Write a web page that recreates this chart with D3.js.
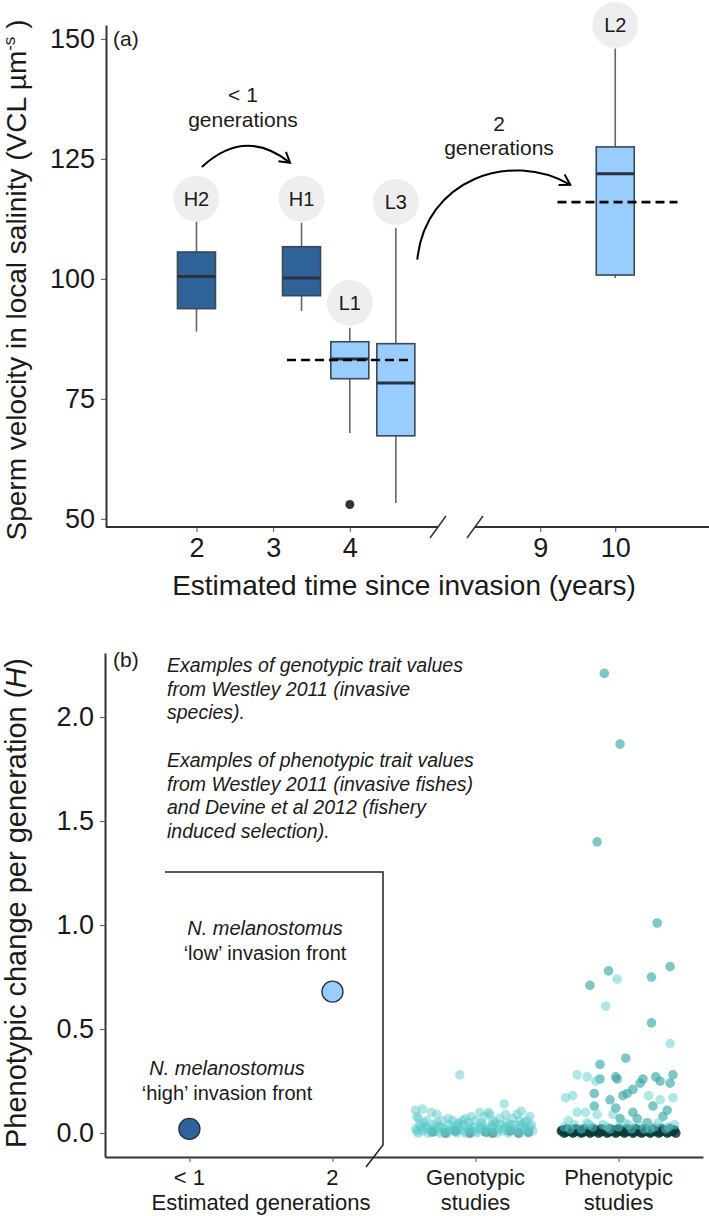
<!DOCTYPE html>
<html><head><meta charset="utf-8">
<script src="https://cdn.jsdelivr.net/npm/d3@7"></script>
<style>
body{margin:0;background:#fff}
svg{display:block}
text{font-family:"Liberation Sans",Arial,Helvetica,sans-serif;fill:#1a1a1a}
</style>
</head><body>
<svg id="c" width="709" height="1216"></svg>
<script>
// ---------------- Panel (a) data ----------------
const boxLabels = ["H2", "H1", "L1", "L3", "L2"];
const boxYears  = [2, 3.37, 4, 4.6, 10];
const boxGroup  = ["high", "high", "low", "low", "low"];
const boxMin    = [89.0, 93.3, 67.9, 53.3, 100.2];
const boxQ1     = [93.8, 96.5, 79.2, 67.3, 100.8];
const boxMedian = [100.5, 100.2, 83.3, 78.3, 121.9];
const boxQ3     = [105.6, 106.7, 86.9, 86.5, 127.5];
const boxMax    = [112.0, 111.7, 89.8, 110.6, 148.0];
const bubbleValue = [116.7, 116.7, 95.0, 116.0, 152.9];
const outlierYear = [4];
const outlierValue = [53.0];
const meanFrom = [3.18, 9.23];
const meanTo   = [4.79, 10.83];
const meanValue = [83.1, 116.0];
const yTicksA = [50, 75, 100, 125, 150];
const xTicksA = [2, 3, 4, 9, 10];
const arrow1 = [[2.07, 123.3], [2.635, 131.7], [3.22, 124.2]];
const arrow2 = [[4.88, 104.0], [4.98, 120.6], [8.60, 126.9], [9.40, 119.6]];
const arrowText1 = ["< 1", "generations"];
const arrowText2 = ["2", "generations"];

// ---------------- Panel (b) data ----------------
const bCats = ["< 1", "2", "Genotypic", "Phenotypic"];
const bCatLine1 = ["< 1", "2", "Genotypic", "Phenotypic"];
const bCatLine2 = ["", "", "studies", "studies"];
const yTicksB = [0.0, 0.5, 1.0, 1.5, 2.0];
const nmCats = ["< 1", "2"];
const nmValues = [0.02, 0.68];
const nmGroup = ["high", "low"];
const nmNote1 = ["N. melanostomus", "N. melanostomus"];
const nmNote2 = ["\u2018high\u2019 invasion front", "\u2018low\u2019 invasion front"];
const noteLines = [
  "Examples of genotypic trait values",
  "from Westley 2011 (invasive",
  "species).",
  "",
  "Examples of phenotypic trait values",
  "from Westley 2011 (invasive fishes)",
  "and Devine et al 2012 (fishery",
  "induced selection)."
];
// [jitter (fraction of category step), H value]
const genoLight = [
  [-0.11,0.28],[0.20,0.14],[-0.42,0.11],[-0.37,0.115],[-0.31,0.10],[0.03,0.10],[0.09,0.10],
  [0.32,0.105],[0.21,0.09],[-0.16,0.06],[-0.09,0.06],[-0.03,0.08],[-0.05,0.05],[0.26,0.07],
  [0.36,0.06],[-0.40,0.07],[-0.27,0.05],
  [-0.41,0.08],[-0.34,0.06],[-0.19,0.07],[-0.12,0.05],[0.00,0.06],[0.06,0.08],[0.14,0.05],
  [0.17,0.07],[0.29,0.09],[0.34,0.05],[0.38,0.08],[-0.27,0.09],[0.10,0.09],
  [-0.36,0.05],[-0.23,0.06],[-0.07,0.07],[0.04,0.05],[0.12,0.06],[0.22,0.05],[0.31,0.06],
  [-0.42,0.02],[-0.40,0.00],[-0.39,0.04],[-0.37,0.01],[-0.35,0.03],[-0.33,0.00],[-0.31,0.02],
  [-0.29,0.04],[-0.27,0.01],[-0.25,0.00],[-0.24,0.03],[-0.22,0.02],[-0.20,0.00],[-0.18,0.04],
  [-0.16,0.01],[-0.14,0.03],[-0.13,0.00],[-0.11,0.02],[-0.09,0.04],[-0.07,0.00],[-0.05,0.02],
  [-0.03,0.01],[-0.01,0.03],[0.01,0.00],[0.03,0.02],[0.05,0.04],[0.07,0.01],[0.09,0.00],
  [0.11,0.03],[0.13,0.02],[0.15,0.00],[0.17,0.04],[0.19,0.01],[0.21,0.03],[0.23,0.00],
  [0.25,0.02],[0.27,0.04],[0.29,0.01],[0.31,0.00],[0.33,0.03],[0.35,0.02],[0.37,0.00],
  [0.39,0.04],[0.40,0.01],
  [-0.41,0.01],[-0.38,0.03],[-0.34,0.02],[-0.30,0.01],[-0.26,0.03],[-0.21,0.01],[-0.17,0.02],
  [-0.12,0.04],[-0.08,0.01],[-0.04,0.03],[0.00,0.01],[0.04,0.03],[0.08,0.02],[0.12,0.04],
  [0.16,0.02],[0.20,0.02],[0.24,0.04],[0.28,0.02],[0.32,0.04],[0.36,0.01],[0.38,0.03]
];
const genoDark = [
  [-0.30,0.005],[-0.21,0.00],[-0.14,0.01],[-0.04,0.00],[0.07,0.005],[0.12,0.00],
  [0.24,0.01],[0.30,0.00],[0.37,0.005]
];
const phenoMid = [
  [-0.10,2.21],[0.01,1.87],[-0.15,1.40],[0.27,1.01],[0.36,0.80],[-0.07,0.78],[0.23,0.75],
  [-0.20,0.71],[0.23,0.53],[0.05,0.36],[-0.13,0.33],[-0.13,0.26],[-0.02,0.27],[-0.01,0.26],
  [0.15,0.24],[0.17,0.26],[0.26,0.27],[0.29,0.25],[0.38,0.28],[0.36,0.24],[0.10,0.21],
  [0.06,0.19],[0.03,0.18],[-0.17,0.19],[-0.06,0.16],[-0.17,0.13],[-0.02,0.12],[0.24,0.13],
  [0.34,0.11],[0.10,0.10],[0.13,0.07],[0.31,0.08],[0.01,0.07],[0.20,0.05]
];
const phenoLight = [
  [-0.01,0.74],[-0.09,0.61],[0.36,0.43],[-0.29,0.28],[-0.22,0.27],[-0.16,0.25],
  [-0.32,0.18],[-0.37,0.17],[0.21,0.18],[0.29,0.16],[0.38,0.17],[-0.29,0.10],[-0.23,0.10],
  [-0.15,0.09],[-0.04,0.09],[-0.35,0.06],[-0.22,0.05],
  [-0.38,0.03],[-0.31,0.04],[-0.26,0.02],[-0.18,0.03],[-0.11,0.04],[-0.06,0.02],[0.00,0.03],
  [0.04,0.05],[0.09,0.02],[0.14,0.04],[0.18,0.02],[0.25,0.03],[0.28,0.05],[0.33,0.02],[0.39,0.04],
  [-0.34,0.02],[-0.21,0.04],[-0.08,0.03],[0.07,0.04],[0.22,0.02],[0.35,0.03]
];
const phenoDark = [
  [-0.40,0.01],[-0.38,0.00],[-0.36,0.02],[-0.34,0.01],[-0.32,0.00],[-0.30,0.02],[-0.28,0.01],
  [-0.26,0.00],[-0.24,0.02],[-0.22,0.01],[-0.20,0.00],[-0.18,0.02],[-0.16,0.01],[-0.14,0.00],
  [-0.12,0.02],[-0.10,0.01],[-0.08,0.00],[-0.06,0.02],[-0.04,0.01],[-0.02,0.00],[0.00,0.02],
  [0.02,0.01],[0.04,0.00],[0.06,0.02],[0.08,0.01],[0.10,0.00],[0.12,0.02],[0.14,0.01],
  [0.16,0.00],[0.18,0.02],[0.20,0.01],[0.22,0.00],[0.24,0.02],[0.26,0.01],[0.28,0.00],
  [0.30,0.02],[0.32,0.01],[0.34,0.00],[0.36,0.02],[0.38,0.01],[0.40,0.00],
  [-0.39,0.015],[-0.37,0.005],[-0.35,0.01],[-0.33,0.015],[-0.31,0.005],[-0.29,0.01],[-0.27,0.015],
  [-0.25,0.005],[-0.23,0.01],[-0.21,0.015],[-0.19,0.005],[-0.17,0.01],[-0.15,0.015],[-0.13,0.005],
  [-0.11,0.01],[-0.09,0.015],[-0.07,0.005],[-0.05,0.01],[-0.03,0.015],[-0.01,0.005],[0.01,0.01],
  [0.03,0.015],[0.05,0.005],[0.07,0.01],[0.09,0.015],[0.11,0.005],[0.13,0.01],[0.15,0.015],
  [0.17,0.005],[0.19,0.01],[0.21,0.015],[0.23,0.005],[0.25,0.01],[0.27,0.015],[0.29,0.005],
  [0.31,0.01],[0.33,0.015],[0.35,0.005],[0.37,0.01],[0.39,0.015]
];

// ---------------- drawing ----------------
const svg = d3.select("#c");
const colDark = "#2f6296", colLight = "#99ccff";
const fillOf = g => g === "high" ? colDark : colLight;

// Panel (a) scales
const xA = d3.scaleLinear().domain([0.82, 5.15, 8.13, 11.25]).range([106, 438, 475, 709]);
const yA = d3.scaleLinear().domain([48.3, 152.9]).range([527, 25]);

const gA = svg.append("g");
const yAxA = gA.append("g").attr("transform", `translate(${xA(0.82)},0)`)
  .call(d3.axisLeft(yA).tickValues(yTicksA).tickSize(5).tickSizeOuter(0).tickPadding(6));
yAxA.select(".domain").attr("stroke", "#333").attr("stroke-width", 2);
yAxA.selectAll(".tick line").attr("stroke", "#555");
yAxA.selectAll(".tick text").attr("font-size", 27).attr("fill", "#1a1a1a").attr("font-family", null);

const xAxA = gA.append("g").attr("transform", `translate(0,${yA(48.3)})`)
  .call(d3.axisBottom(xA).tickValues(xTicksA).tickSize(5).tickSizeOuter(0).tickPadding(6));
xAxA.select(".domain").remove();
xAxA.selectAll(".tick line").attr("stroke", "#555");
xAxA.selectAll(".tick text").attr("font-size", 27).attr("fill", "#1a1a1a").attr("font-family", null);
const axY = yA(48.3);
[[0.82, 5.15], [8.13, 11.25]].forEach(s => {
  gA.append("line").attr("x1", xA(s[0])).attr("x2", xA(s[1])).attr("y1", axY).attr("y2", axY)
    .attr("stroke", "#333").attr("stroke-width", 2);
});
[5.15, 8.13].forEach(b => {
  gA.append("line").attr("x1", xA(b) - 8).attr("x2", xA(b) + 8).attr("y1", axY + 11).attr("y2", axY - 11)
    .attr("stroke", "#333").attr("stroke-width", 1.5);
});

gA.append("text").attr("x", 404).attr("y", 595).attr("text-anchor", "middle").attr("font-size", 28)
  .text("Estimated time since invasion (years)");
const ttlA = gA.append("text").attr("transform", "translate(26,280) rotate(-90)").attr("text-anchor", "middle").attr("font-size", 28);
ttlA.append("tspan").text("Sperm velocity in local salinity (VCL \u00b5m");
ttlA.append("tspan").attr("font-size", 17).attr("dy", -11).text("-s");
ttlA.append("tspan").attr("dy", 11).text(" )");
gA.append("text").attr("x", 113).attr("y", 46).attr("font-size", 21).text("(a)");

const boxW = 38;
boxLabels.forEach((lab, i) => {
  const cx = xA(boxYears[i]);
  gA.append("line").attr("x1", cx).attr("x2", cx).attr("y1", yA(boxMin[i])).attr("y2", yA(boxMax[i]))
    .attr("stroke", "#666").attr("stroke-width", 1.6);
  gA.append("rect").attr("x", cx - boxW / 2).attr("y", yA(boxQ3[i])).attr("width", boxW)
    .attr("height", yA(boxQ1[i]) - yA(boxQ3[i])).attr("fill", fillOf(boxGroup[i]))
    .attr("stroke", "#3b4856").attr("stroke-width", 1.6);
  gA.append("line").attr("x1", cx - boxW / 2).attr("x2", cx + boxW / 2).attr("y1", yA(boxMedian[i])).attr("y2", yA(boxMedian[i]))
    .attr("stroke", "#2a3440").attr("stroke-width", 3);
  gA.append("circle").attr("cx", cx).attr("cy", yA(bubbleValue[i])).attr("r", 23).attr("fill", "#eeeeee");
  gA.append("text").attr("x", cx).attr("y", yA(bubbleValue[i])).attr("dy", "0.36em").attr("text-anchor", "middle")
    .attr("font-size", 20).text(lab);
});
outlierYear.forEach((yr, i) => {
  gA.append("circle").attr("cx", xA(yr)).attr("cy", yA(outlierValue[i])).attr("r", 4.5).attr("fill", "#333");
});
meanValue.forEach((v, i) => {
  gA.append("line").attr("x1", xA(meanFrom[i])).attr("x2", xA(meanTo[i])).attr("y1", yA(v)).attr("y2", yA(v))
    .attr("stroke", "#000").attr("stroke-width", 2.6).attr("stroke-dasharray", "9,5");
});

const defs = svg.append("defs");
defs.append("marker").attr("id", "ah").attr("markerUnits", "userSpaceOnUse").attr("viewBox", "-12 -8 14 16")
  .attr("refX", 0).attr("refY", 0).attr("markerWidth", 14).attr("markerHeight", 16).attr("orient", "auto")
  .append("path").attr("d", "M-10,-6 L0,0 L-10,6").attr("fill", "none").attr("stroke", "#000").attr("stroke-width", 2);
const p1 = arrow1.map(d => [xA(d[0]), yA(d[1])]);
gA.append("path").attr("d", `M${p1[0]} Q${p1[1]} ${p1[2]}`).attr("fill", "none").attr("stroke", "#000")
  .attr("stroke-width", 2).attr("marker-end", "url(#ah)");
const p2 = arrow2.map(d => [xA(d[0]), yA(d[1])]);
gA.append("path").attr("d", `M${p2[0]} C${p2[1]} ${p2[2]} ${p2[3]}`).attr("fill", "none").attr("stroke", "#000")
  .attr("stroke-width", 2).attr("marker-end", "url(#ah)");
gA.append("text").attr("x", 243).attr("y", 102).attr("text-anchor", "middle").attr("font-size", 21).text(arrowText1[0]);
gA.append("text").attr("x", 243).attr("y", 127).attr("text-anchor", "middle").attr("font-size", 21).text(arrowText1[1]);
gA.append("text").attr("x", 499).attr("y", 131).attr("text-anchor", "middle").attr("font-size", 21).text(arrowText2[0]);
gA.append("text").attr("x", 499).attr("y", 155).attr("text-anchor", "middle").attr("font-size", 21).text(arrowText2[1]);

// ---------------- Panel (b) ----------------
const xB = d3.scalePoint().domain(bCats).range([105, 703]).padding(0.59);
const yB = d3.scaleLinear().domain([-0.115, 2.308]).range([1157, 653]);
const gB = svg.append("g");

const yAxB = gB.append("g").attr("transform", "translate(105,0)")
  .call(d3.axisLeft(yB).tickValues(yTicksB).tickFormat(d3.format(".1f")).tickSize(5).tickSizeOuter(0).tickPadding(6));
yAxB.select(".domain").attr("stroke", "#333").attr("stroke-width", 2);
yAxB.selectAll(".tick line").attr("stroke", "#555");
yAxB.selectAll(".tick text").attr("font-size", 27).attr("fill", "#1a1a1a").attr("font-family", null);

const xAxB = gB.append("g").attr("transform", `translate(0,${yB(-0.115)})`)
  .call(d3.axisBottom(xB).tickSize(5).tickSizeOuter(0).tickFormat(""));
xAxB.select(".domain").attr("stroke", "#333").attr("stroke-width", 2);
xAxB.selectAll(".tick line").attr("stroke", "#555");
bCats.forEach((c, i) => {
  gB.append("text").attr("x", xB(c)).attr("y", 1185).attr("text-anchor", "middle").attr("font-size", 22).text(bCatLine1[i]);
  if (bCatLine2[i]) gB.append("text").attr("x", xB(c)).attr("y", 1210).attr("text-anchor", "middle").attr("font-size", 22).text(bCatLine2[i]);
});
gB.append("text").attr("x", (xB("< 1") + xB("2")) / 2).attr("y", 1210).attr("text-anchor", "middle").attr("font-size", 22)
  .text("Estimated generations");

const ttlB = gB.append("text").attr("transform", "translate(26,903) rotate(-90)").attr("text-anchor", "middle").attr("font-size", 29);
ttlB.append("tspan").text("Phenotypic change per generation (");
ttlB.append("tspan").attr("font-style", "italic").text("H");
ttlB.append("tspan").text(")");
gB.append("text").attr("x", 113).attr("y", 667).attr("font-size", 21).text("(b)");

noteLines.forEach((l, i) => {
  gB.append("text").attr("x", 167).attr("y", 672 + i * 23.7).attr("font-size", 19.5).attr("font-style", "italic").text(l);
});
const brX = 383, brTop = 872, brBot = 1145;
gB.append("path").attr("d", `M165,${brTop} H${brX} V${brBot} L${brX - 17},${brBot + 22}`)
  .attr("fill", "none").attr("stroke", "#222").attr("stroke-width", 1.5);

nmCats.forEach((c, i) => {
  gB.append("circle").attr("cx", xB(c)).attr("cy", yB(nmValues[i])).attr("r", 10.5)
    .attr("fill", fillOf(nmGroup[i])).attr("stroke", "#263544").attr("stroke-width", 1.4);
});
const noteCx = [227, 265], noteBase = [1075, 935];
nmCats.forEach((c, i) => {
  gB.append("text").attr("x", noteCx[i]).attr("y", noteBase[i]).attr("text-anchor", "middle").attr("font-size", 20)
    .attr("font-style", "italic").text(nmNote1[i]);
  gB.append("text").attr("x", noteCx[i]).attr("y", noteBase[i] + 25).attr("text-anchor", "middle").attr("font-size", 20)
    .text(nmNote2[i]);
});

const step = xB.step();
function pts(data, cat, fill, op, r) {
  gB.append("g").selectAll("circle").data(data).join("circle")
    .attr("cx", d => xB(cat) + d[0] * step).attr("cy", d => yB(d[1])).attr("r", r)
    .attr("fill", fill).attr("fill-opacity", op);
}
pts(genoDark, "Genotypic", "#0d4747", 0.55, 4.8);
pts(genoLight, "Genotypic", "#55c8c8", 0.45, 4.8);
pts(phenoDark, "Phenotypic", "#0a3b3b", 0.85, 4.8);
pts(phenoMid, "Phenotypic", "#3aa8a8", 0.65, 4.8);
pts(phenoLight, "Phenotypic", "#5fcfcf", 0.5, 4.8);
</script>
</body></html>
